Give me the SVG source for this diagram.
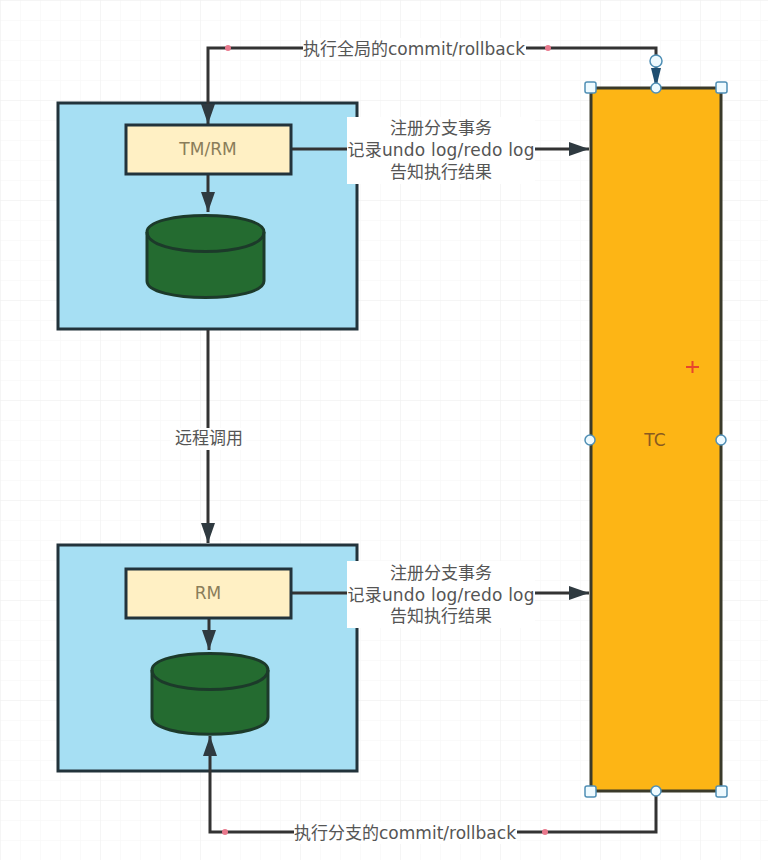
<svg xmlns="http://www.w3.org/2000/svg" width="768" height="860" viewBox="0 0 768 860">
<style>
text{font-family:"DejaVu Sans","Noto Sans CJK SC",sans-serif;font-size:17px;fill:#555;text-anchor:middle}
.zh{font-family:"Noto Sans CJK SC",sans-serif}
.box{fill:#a6dff3;stroke:#22333b;stroke-width:3}
.inner{fill:#fff0c4;stroke:#22333b;stroke-width:3}
.db{fill:#246b30;stroke:#1c3a2a;stroke-width:3}
.c{fill:none;stroke:#333;stroke-width:3}
.b{fill:none;stroke:#1f4e70;stroke-width:3}
.lab{fill:#fff}
.h{fill:#eefaff;stroke:#4f8fb5;stroke-width:1.5}
.dot{fill:#e8788c}
.ti{fill:#8a7d5a}
</style>
<defs>
<marker id="a" markerUnits="userSpaceOnUse" markerWidth="22" markerHeight="18" refX="20" refY="9" orient="auto"><path d="M0 2L20 9L0 16z" fill="#2f3a40"/></marker>
<marker id="b" markerUnits="userSpaceOnUse" markerWidth="22" markerHeight="14" refX="20" refY="7" orient="auto"><path d="M0 2L20 7L0 12z" fill="#1f4e70"/></marker>
<pattern id="g" width="20" height="20" patternUnits="userSpaceOnUse"><path d="M20 0H0V20" fill="none" stroke="#f6f6f6"/></pattern>
<pattern id="G" width="100" height="100" patternUnits="userSpaceOnUse"><path d="M100 0H0V100" fill="none" stroke="#efefef"/></pattern>
</defs>
<rect width="768" height="860" fill="#fff"/>
<rect width="768" height="860" fill="url(#g)"/>
<rect width="768" height="860" fill="url(#G)"/>
<g id="node-tmrm-container"><rect class="box" x="58" y="103" width="299" height="226"/></g>
<g id="node-rm-container"><rect class="box" x="58" y="545" width="299" height="226"/></g>
<g id="node-tc"><rect x="591" y="88" width="130" height="703" fill="#fdb515" stroke="#3a3a2a" stroke-width="3"/><text x="655" y="446" style="fill:#8a5a20">TC</text></g>
<g id="connectors">
<path class="c" d="M656 62V48H208V124" marker-end="url(#a)"/>
<path class="b" d="M656 66V88" marker-end="url(#b)"/>
<path class="c" d="M208 174V212" marker-end="url(#a)"/>
<path class="c" d="M291 149H589" marker-end="url(#a)"/>
<path class="c" d="M208 330V543" marker-end="url(#a)"/>
<path class="c" d="M209 618V650" marker-end="url(#a)"/>
<path class="c" d="M291 593H589" marker-end="url(#a)"/>
<path class="c" d="M656 792V832H210V736" marker-end="url(#a)"/>
<circle class="dot" cx="228" cy="48" r="3"/><circle class="dot" cx="548" cy="48" r="3"/>
<circle class="dot" cx="225" cy="832" r="3"/><circle class="dot" cx="545" cy="832" r="3"/>
</g>
<g id="node-tmrm"><rect class="inner" x="126" y="125" width="165" height="49"/><text class="ti" x="208" y="155">TM/RM</text></g>
<g id="node-db1"><path class="db" d="M147 232C147 210 264 210 264 232V281C264 303 147 303 147 281Z"/><path class="db" d="M147 232C147 258 264 258 264 232" fill="none" style="fill:none"/></g>
<g id="node-rm"><rect class="inner" x="126" y="569" width="165" height="49"/><text class="ti" x="208" y="599">RM</text></g>
<g id="node-db2"><path class="db" d="M152 670C152 648 268 648 268 670V717C268 740 152 740 152 717Z"/><path class="db" d="M152 670C152 696 268 696 268 670" style="fill:none"/></g>
<g id="labels">
<rect class="lab" x="303" y="38" width="223" height="22"/><text x="414" y="55" textLength="222">执行全局的commit/rollback</text>
<rect class="lab" x="347" y="117" width="188" height="67"/>
<text x="441" y="134">注册分支事务</text><text x="441" y="156" textLength="187">记录undo log/redo log</text><text x="441" y="178">告知执行结果</text>
<rect class="lab" x="170" y="428" width="76" height="22"/><text x="209" y="444">远程调用</text>
<rect class="lab" x="347" y="561" width="188" height="67"/>
<text x="441" y="579">注册分支事务</text><text x="441" y="601" textLength="187">记录undo log/redo log</text><text x="441" y="622">告知执行结果</text>
<rect class="lab" x="294" y="822" width="223" height="22"/><text x="405" y="839" textLength="222">执行分支的commit/rollback</text>
</g>
<g id="selection-handles">
<rect class="h" x="585" y="82" width="11" height="11" rx="2"/><rect class="h" x="716" y="82" width="11" height="11" rx="2"/>
<rect class="h" x="585" y="786" width="11" height="11" rx="2"/><rect class="h" x="716" y="786" width="11" height="11" rx="2"/>
<circle class="h" cx="656" cy="88" r="5"/><circle class="h" cx="656" cy="791" r="5"/><circle class="h" cx="590" cy="440" r="5"/><circle class="h" cx="721" cy="440" r="5"/>
<circle class="h" cx="656" cy="61" r="6"/>
<path d="M686 367H699M692.500 361V373" stroke="#e8452c" stroke-width="2"/>
</g>
</svg>
